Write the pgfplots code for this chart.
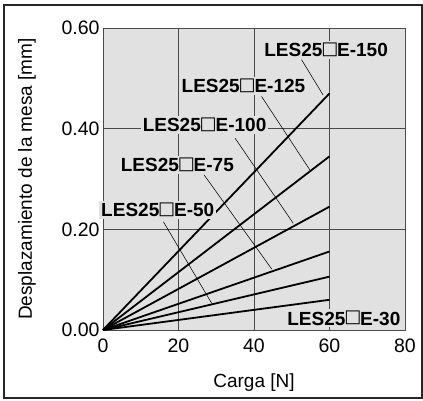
\documentclass[border=0pt]{standalone}
\usepackage{fontspec}
\setmainfont{Liberation Sans}
\newfontfamily\symf{DejaVu Sans}[Scale=0.95]
\usepackage{pgfplots}
\pgfplotsset{compat=1.18}
\definecolor{bgray}{HTML}{E1E1E1}
\definecolor{gline}{HTML}{4A4A4A}
\newcommand{\bigf}{\fontsize{19}{22}\selectfont}
\newcommand{\tickf}{\fontsize{19.5}{22}\selectfont}
\newcommand{\lbl}[1]{\textbf{LES25\kern-0.06em\raisebox{0.13em}{\symf\mdseries □}\kern-0.06em E-#1}}

\begin{document}
\begin{tikzpicture}
\path (-103pt,-71pt) rectangle (320pt,330pt);
\draw[line width=1.4pt, black!85] (-99pt,-68pt) rectangle (319pt,325pt);
\begin{axis}[
    at={(0,0)}, anchor=south west,
    width=302pt, height=302pt, scale only axis,
    xmin=0, xmax=80, ymin=0, ymax=0.6,
    xtick={0,20,40,60,80},
    ytick={0,0.2,0.4,0.6},
    grid=major,
    major grid style={gline, line width=0.8pt},
    axis line style={gline, line width=0.8pt},
    major tick length=0pt,
    axis background/.style={fill=bgray},
    tick label style={font=\tickf},
    /pgf/number format/assume math mode=true,
    yticklabel style={/pgf/number format/.cd, fixed, fixed zerofill, precision=2},
    xticklabel style={anchor=center, yshift=-16pt},
    xlabel={Carga [N]},
    ylabel={Desplazamiento de la mesa [mm]},
    label style={font=\bigf},
    xlabel style={at={(axis description cs:0.5,-0.1755)}, anchor=center},
    ylabel style={at={(axis description cs:-0.252,0.5)}, anchor=center},
    clip=false,
]
\addplot[black, line width=1.8pt] coordinates {(0,0) (60,0.470)};
\addplot[black, line width=1.8pt] coordinates {(0,0) (60,0.345)};
\addplot[black, line width=1.8pt] coordinates {(0,0) (60,0.245)};
\addplot[black, line width=1.8pt] coordinates {(0,0) (60,0.156)};
\addplot[black, line width=1.8pt] coordinates {(0,0) (60,0.106)};
\addplot[black, line width=1.8pt] coordinates {(0,0) (60,0.060)};

% leader lines
\draw[black, line width=0.55pt] (axis cs:52.6,0.537) -- (axis cs:58.3,0.467);
\draw[black, line width=0.55pt] (axis cs:42.0,0.464) -- (axis cs:54.8,0.318);
\draw[black, line width=0.55pt] (axis cs:35.0,0.381) -- (axis cs:50.4,0.212);
\draw[black, line width=0.55pt] (axis cs:26.8,0.308) -- (axis cs:44.7,0.121);
\draw[black, line width=0.55pt] (axis cs:16.0,0.215) -- (axis cs:28.8,0.053);

\tikzset{lab/.style={fill=bgray, inner sep=2pt, font=\bigf}}
\node[lab] at (axis cs:59.1,0.557) {\lbl{150}};
\node[lab] at (axis cs:37.2,0.485) {\lbl{125}};
\node[lab] at (axis cs:26.9,0.4076) {\lbl{100}};
\node[lab] at (axis cs:19.7,0.328) {\lbl{75}};
\node[lab] at (axis cs:14.5,0.2386) {\lbl{50}};
\node[lab] at (axis cs:63.8,0.0233) {\lbl{30}};
\end{axis}
\end{tikzpicture}
\end{document}
